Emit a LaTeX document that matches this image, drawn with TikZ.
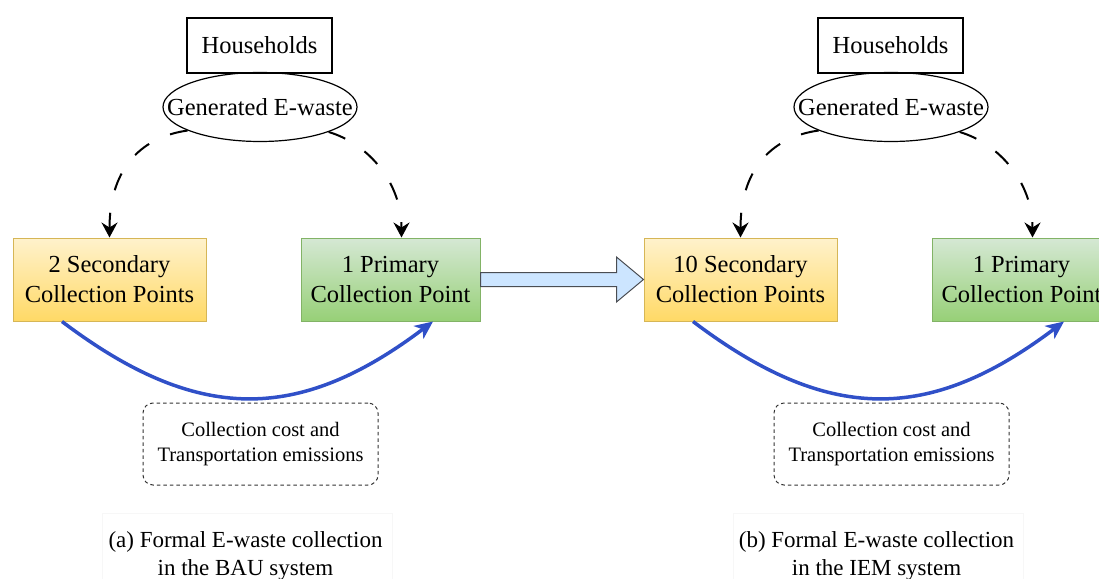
\documentclass[tikz,border=0pt]{standalone}
\usepackage{fontspec}
\setmainfont{Liberation Serif}
\usetikzlibrary{shapes.geometric,arrows.meta,calc}

\definecolor{secTop}{HTML}{FFF2CC}
\definecolor{secBot}{HTML}{FFD966}
\definecolor{secLine}{HTML}{D6B656}
\definecolor{priTop}{HTML}{D5E8D4}
\definecolor{priBot}{HTML}{97D077}
\definecolor{priLine}{HTML}{82B366}
\definecolor{routeBlue}{RGB}{48,80,200}
\definecolor{stepFill}{HTML}{CCE5FF}
\definecolor{stepLine}{HTML}{4A4D52}

\tikzset{
  lbl/.style={font=\rmfamily\fontsize{24.5}{30}\selectfont, align=center},
  housebox/.style={draw, line width=1.3pt, minimum width=145pt, minimum height=55pt, inner sep=0pt, lbl},
  wastebubble/.style={draw, ellipse, line width=1.2pt, minimum width=194pt, minimum height=69pt, inner sep=0pt},
  secbox/.style={draw=secLine, line width=1pt, top color=secTop, bottom color=secBot,
    minimum width=193pt, minimum height=83pt, inner sep=0pt, lbl},
  pribox/.style={draw=priLine, line width=1pt, top color=priTop, bottom color=priBot,
    minimum width=179pt, minimum height=83pt, inner sep=0pt, lbl},
  notebox/.style={draw=black!80, line width=1pt, dash pattern=on 3.5pt off 3pt, rounded corners=10pt,
    minimum width=235pt, minimum height=82pt, inner sep=0pt, align=center,
    font=\rmfamily\fontsize{20.5}{25}\selectfont},
  flow/.style={line width=2pt, dash pattern=on 18pt off 23pt,
    -{Stealth[length=15pt,width=16pt,inset=5pt]}},
  route/.style={routeBlue, line width=3.5pt, -{Stealth[length=18pt,width=16pt,inset=5pt]}},
  caption/.style={font=\rmfamily\fontsize{23}{28}\selectfont, anchor=base, inner sep=0pt},
}

\begin{document}
\begin{tikzpicture}[x=1pt,y=-1pt]
\useasboundingbox (0,0) rectangle (1099,578);
\clip (0,0) rectangle (1099,578);

\foreach \p/\dx/\n/\sys in {a/0/2/BAU, b/631/10/IEM} {
  \begin{scope}[xshift=\dx pt]
    % source of the e-waste
    \node[housebox] (hh\p) at (259.5,45.5) {Households};
    \node[wastebubble, label={[lbl]center:Generated E-waste}] (ew\p) at (260,107) {};
    % collection points
    \node[secbox] (sec\p) at (109.5,279.5) {\n\ Secondary\\Collection Points};
    \node[pribox] (pri\p) at (390.5,279.5) {1 Primary\\Collection Point};
    % cost note
    \node[notebox] (note\p) at (260.5,444) {Collection cost and\\Transportation emissions};
    % panel caption
    \draw[black!3, line width=0.6pt] (102,513) rectangle (392,590);
    \node[caption] (capA\p) at (245.5,547) {(\p) Formal E-waste collection};
    \node[caption] (capB\p) at (245.5,575) {in the \sys\ system};
    % waste flows
    \draw[flow] (ew\p.198) .. controls +(-50,7) and +(0,-65) .. (sec\p.north);
    \draw[flow] (ew\p.340) .. controls +(40,12) and +(0,-55) .. ([xshift=11pt]pri\p.north);
    % transport route
    \draw[route] ([xshift=-47.5pt]sec\p.south) .. controls +(135,102) and +(-135,102) .. ([xshift=42.5pt]pri\p.south);
  \end{scope}
}

% transition from the BAU system to the IEM system
\coordinate (st) at (pria.east);
\coordinate (en) at (secb.west);
\draw[stepLine, fill=stepFill, line width=1pt, line join=miter]
  ($(st)+(0,-7)$) -- ($(en)+(-27,-7)$) -- ($(en)+(-27,-22.5)$) -- (en)
  -- ($(en)+(-27,22.5)$) -- ($(en)+(-27,7)$) -- ($(st)+(0,7)$) -- cycle;
\end{tikzpicture}
\end{document}
